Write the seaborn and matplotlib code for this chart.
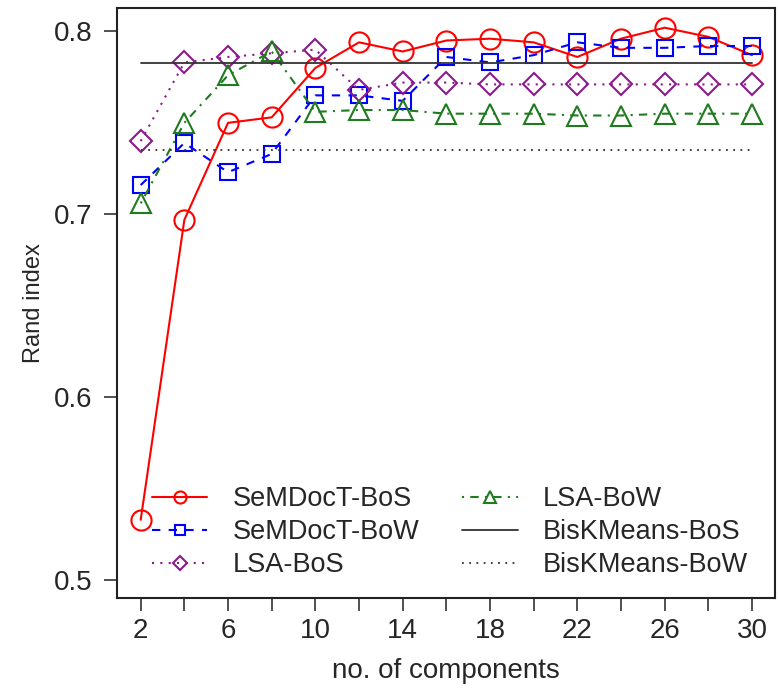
import pandas as pd
import matplotlib
matplotlib.use("Agg")
import matplotlib.pyplot as plt
import seaborn as sns

# data
components = [2, 4, 6, 8, 10, 12, 14, 16, 18, 20, 22, 24, 26, 28, 30]
semdoct_bos = [0.533, 0.697, 0.750, 0.753, 0.780, 0.794, 0.789, 0.795, 0.796, 0.794,
               0.786, 0.796, 0.802, 0.797, 0.787]
semdoct_bow = [0.716, 0.739, 0.723, 0.733, 0.765, 0.765, 0.762, 0.786, 0.783, 0.787,
               0.794, 0.791, 0.791, 0.792, 0.792]
lsa_bos = [0.740, 0.783, 0.786, 0.788, 0.790, 0.768, 0.772, 0.772, 0.771, 0.771,
           0.771, 0.771, 0.771, 0.771, 0.771]
lsa_bow = [0.706, 0.750, 0.776, 0.789, 0.756, 0.757, 0.757, 0.755, 0.755, 0.755,
           0.754, 0.754, 0.755, 0.755, 0.755]
biskmeans_bos = 0.7827
biskmeans_bow = 0.735

x_ticks = list(range(2, 31, 2))
x_ticklabels = [str(t) if (t - 2) % 4 == 0 else "" for t in x_ticks]
y_ticks = [0.5, 0.6, 0.7, 0.8]

sns.set_theme(style="white")
plt.rcParams["font.family"] = ["Liberation Sans", "DejaVu Sans"]

fig = plt.figure(figsize=(7.78, 6.93), dpi=100)
ax = fig.add_axes([0.150, 0.137, 0.846, 0.851])

series = [
    ("SeMDocT-BoS", semdoct_bos, "#FF0000", "-", "o", 14.5),
    ("SeMDocT-BoW", semdoct_bow, "#0000FF", (0, (4, 4)), "s", 11.5),
    ("LSA-BoS", lsa_bos, "#8B1A8B", (0, (1, 3)), "D", 11.5),
    ("LSA-BoW", lsa_bow, "#1E7B1E", (0, (1, 3, 4, 3)), "^", 15),
]

for name, vals, col, ls, mk, ms in series:
    df = pd.DataFrame({"comp": components, "val": vals})
    sns.lineplot(data=df, x="comp", y="val", ax=ax, color=col, linestyle=ls,
                 marker=mk, markersize=ms, markerfacecolor="none",
                 markeredgecolor=col, markeredgewidth=1.5, linewidth=1.5,
                 label=name)

base = pd.DataFrame({"comp": components,
                     "bos": [biskmeans_bos] * len(components),
                     "bow": [biskmeans_bow] * len(components)})
sns.lineplot(data=base, x="comp", y="bos", ax=ax, color="#333333",
             linewidth=1.3, label="BisKMeans-BoS")
sns.lineplot(data=base, x="comp", y="bow", ax=ax, color="#333333",
             linestyle=(0, (1, 3)), linewidth=1.3, label="BisKMeans-BoW")

ax.set_xlim(0.9, 31.05)
ax.set_ylim(0.4902, 0.8126)
ax.set_xticks(x_ticks)
ax.set_xticklabels(x_ticklabels)
ax.set_yticks(y_ticks)
ax.set_yticklabels([f"{t:.1f}" for t in y_ticks])
ax.tick_params(axis="both", direction="out", length=9.5, width=1.2,
               color="#333333", labelsize=20, left=True, bottom=True)
ax.tick_params(axis="y", pad=8)
ax.tick_params(axis="x", pad=5)

for sp in ax.spines.values():
    sp.set_color("#222222")
    sp.set_linewidth(1.5)

ax.set_xlabel("no. of components", fontsize=20, labelpad=10)
ax.set_ylabel("Rand index", fontsize=17, labelpad=6)

ax.legend(loc="lower left", bbox_to_anchor=(0.037, 0.015), borderaxespad=0,
          ncol=2, frameon=False, fontsize=19.5, markerscale=0.6,
          handlelength=2.04, handletextpad=0.93, columnspacing=1.6,
          labelspacing=0.26)

fig.savefig("out.png", dpi=100)
